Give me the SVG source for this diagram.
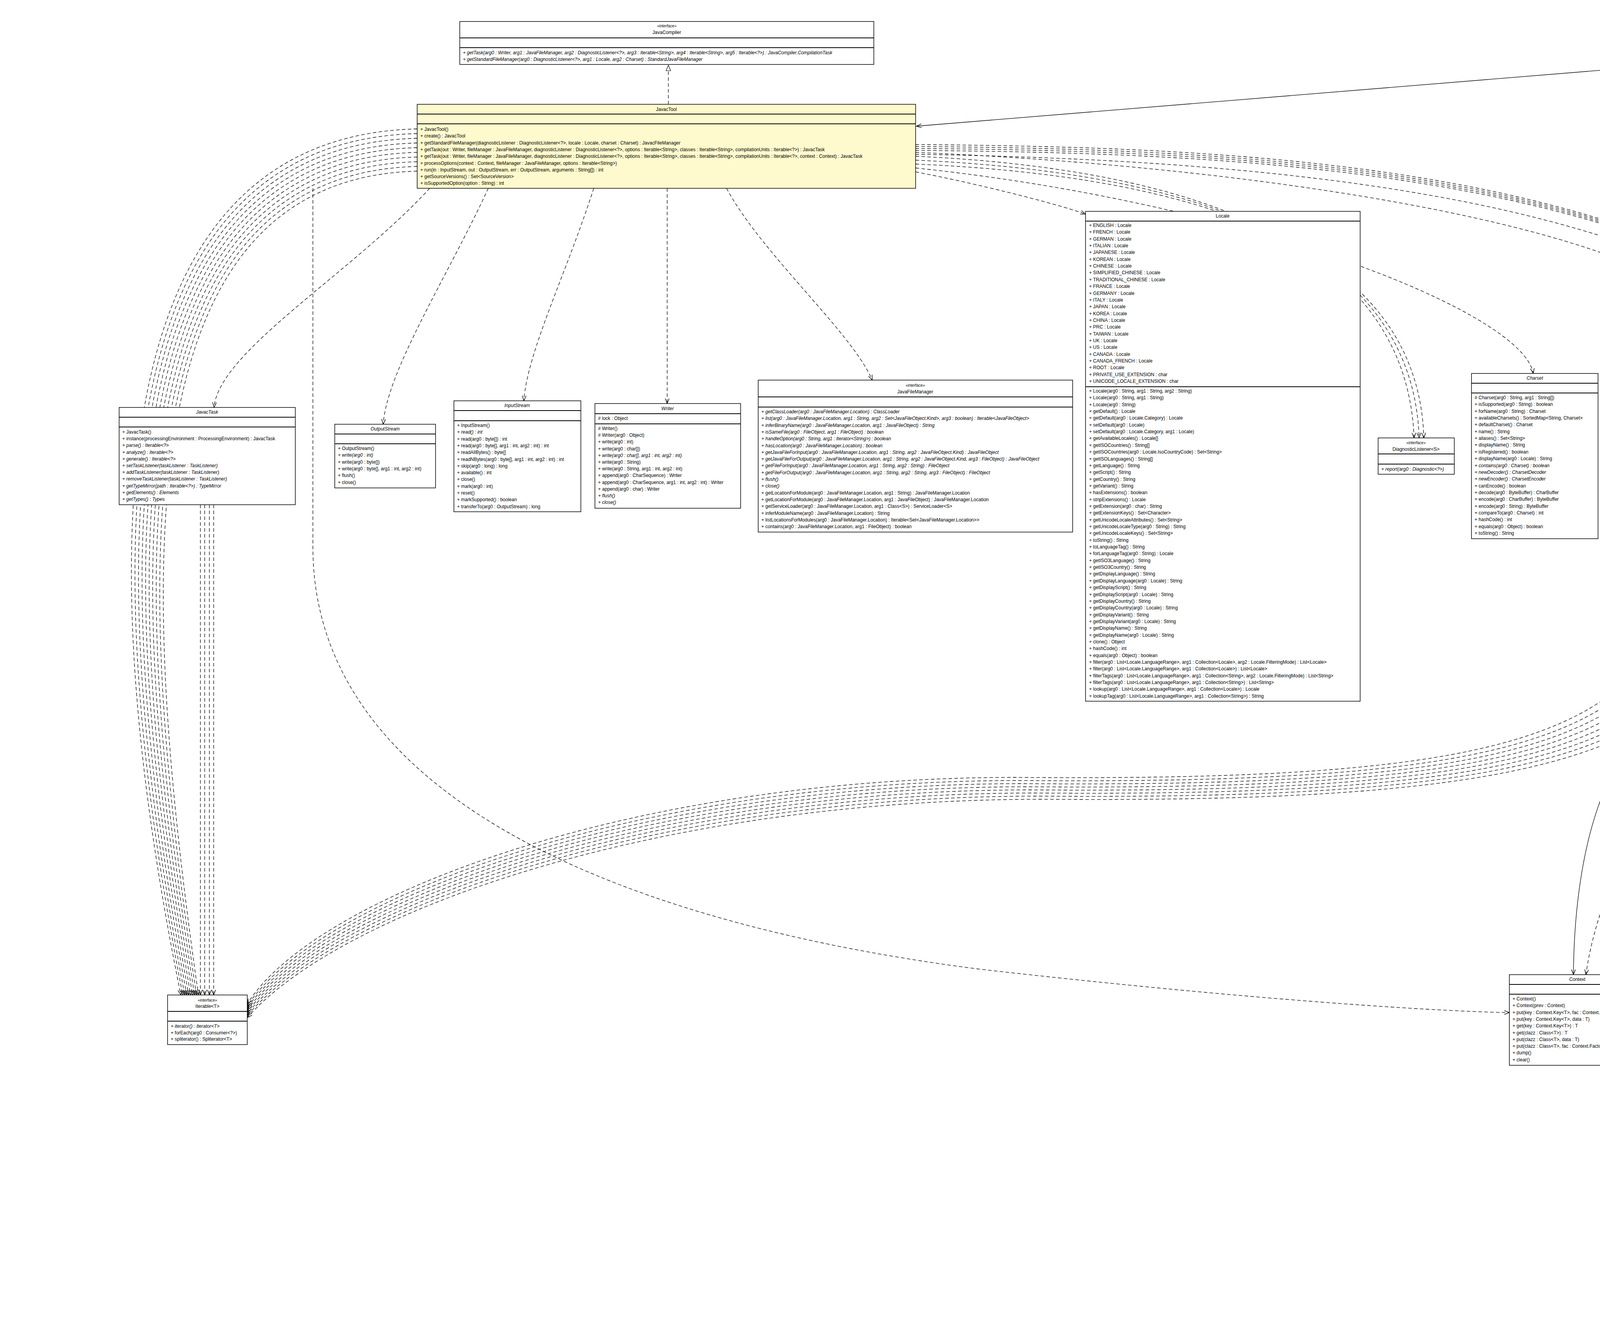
<svg xmlns="http://www.w3.org/2000/svg" width="5475" height="3379" viewBox="0 0 5475 3379">
<style>
.b{fill:#fff;stroke:#000;stroke-width:1.5}
.y{fill:#fffacd}
.l{stroke:#000;stroke-width:1.8}
text{font-family:"Liberation Sans",Arial,sans-serif;font-size:12px;fill:#000}
.c{text-anchor:middle}
.s{font-size:10px}
.i{font-style:italic}
.k{fill:none;stroke:#000;stroke-width:1.3}
.d{stroke-dasharray:9,6}
</style>
<defs>
<marker id="oa" markerWidth="16" markerHeight="12" refX="14" refY="6" orient="auto" markerUnits="userSpaceOnUse"><path d="M1,1 L14,6 L1,11" fill="none" stroke="#000" stroke-width="1.4"/></marker>
<marker id="tr" markerWidth="16" markerHeight="14" refX="15" refY="7" orient="auto" markerUnits="userSpaceOnUse"><path d="M1,1 L15,7 L1,13 Z" fill="#fff" stroke="#000" stroke-width="1.2"/></marker>
</defs>
<rect x="0" y="0" width="5475" height="3379" fill="#fff"/>

<g id="connectors">
<path class="k d" d="M1711,267 L1711,167" marker-end="url(#tr)"/>
<path class="k" d="M5076,100 L2346,323" marker-end="url(#oa)"/>
<path class="k d" d="M1100,482 C900,700 560,900 548,1043" marker-end="url(#oa)"/>
<path class="k d" d="M1250,482 C1150,700 990,950 981,1086" marker-end="url(#oa)"/>
<path class="k d" d="M1520,482 C1450,700 1350,900 1341,1026" marker-end="url(#oa)"/>
<path class="k d" d="M1708,482 L1708,1033" marker-end="url(#oa)"/>
<path class="k d" d="M1860,482 C1950,650 2180,850 2233,973" marker-end="url(#oa)"/>
<path class="k d" d="M2344,440 C2500,470 2700,520 2779,548" marker-end="url(#oa)"/>
<path class="k d" d="M2344,400 C3000,430 3600,600 3620,1121" marker-end="url(#oa)"/>
<path class="k d" d="M2344,410 C3020,440 3615,610 3633,1121" marker-end="url(#oa)"/>
<path class="k d" d="M2344,420 C3040,450 3630,620 3645,1121" marker-end="url(#oa)"/>
<path class="k d" d="M2344,430 C3200,520 3900,800 3925,956" marker-end="url(#oa)"/>
<path class="k d" d="M2344,390 C3300,430 4300,600 4410,844" marker-end="url(#oa)"/>
<path class="k d" d="M2344,370 C3500,380 5150,450 5188,1854" marker-end="url(#oa)"/>
<path class="k d" d="M2344,375 C3500,385 5155,455 5193,1854" marker-end="url(#oa)"/>
<path class="k d" d="M2344,380 C3500,390 5160,460 5198,1854" marker-end="url(#oa)"/>
<path class="k d" d="M2344,385 C3500,395 5165,465 5203,1854" marker-end="url(#oa)"/>
<path class="k" d="M5170,209 L5183,1854" marker-end="url(#oa)"/>
<path class="k" d="M5176,209 L5192,1854" marker-end="url(#oa)"/>
<path class="k" d="M5160,209 C5100,800 5100,1700 5034,1796 C4950,1900 4500,1780 4300,1820 C4100,1880 4030,2200 4028,2495" marker-end="url(#oa)"/>
<path class="k d" d="M4382,1491 C4330,1900 4100,2200 4060,2495" marker-end="url(#oa)"/>
<path class="k d" d="M801,482 L801,1400 C801,2000 1500,2350 2500,2480 C3200,2560 3700,2590 3864,2592" marker-end="url(#oa)"/>
<path class="k" d="M4721,1491 L4938,1956" marker-end="url(#oa)"/>
<path class="k d" d="M4750,1491 L4938,1900" marker-end="url(#oa)"/>
<path class="k d" d="M4770,1491 L4938,1858" marker-end="url(#oa)"/>
<path class="k" d="M4534,1491 L4534,2330" marker-end="url(#oa)"/>
<path class="k d" d="M4550,1491 L4550,2330" marker-end="url(#oa)"/>
<path class="k d" d="M4565,1491 L4565,2330" marker-end="url(#oa)"/>
<path class="k d" d="M4580,1491 L4580,2330" marker-end="url(#oa)"/>
<path class="k d" d="M4595,1491 L4595,2330" marker-end="url(#oa)"/>
<path class="k d" d="M4610,1491 L4610,2330" marker-end="url(#oa)"/>
<path class="k d" d="M2344,395 C4000,420 5100,700 5040,1780 C4950,1900 4680,2100 4645,2330" marker-end="url(#oa)"/>
<path class="k d" d="M4310,1491 C4200,1900 3800,2000 2600,1990 C1600,1990 800,2300 633,2570" marker-end="url(#oa)"/>
<path class="k d" d="M4335,1491 C4225,1905 3820,2008 2610,1998 C1610,1998 810,2305 633,2575" marker-end="url(#oa)"/>
<path class="k d" d="M4360,1491 C4250,1910 3840,2016 2620,2006 C1620,2006 820,2310 633,2580" marker-end="url(#oa)"/>
<path class="k d" d="M4385,1491 C4275,1915 3860,2024 2630,2014 C1630,2014 830,2315 633,2585" marker-end="url(#oa)"/>
<path class="k d" d="M4410,1491 C4300,1920 3880,2032 2640,2022 C1640,2022 840,2320 633,2590" marker-end="url(#oa)"/>
<path class="k d" d="M4435,1491 C4325,1925 3900,2040 2650,2030 C1650,2030 850,2325 633,2595" marker-end="url(#oa)"/>
<path class="k d" d="M4460,1491 C4350,1930 3920,2048 2660,2038 C1660,2038 860,2330 633,2600" marker-end="url(#oa)"/>
<path class="k d" d="M4485,1491 C4375,1935 3940,2056 2670,2046 C1670,2046 870,2335 633,2605" marker-end="url(#oa)"/>
<path class="k d" d="M1068,330 C220,350 250,1500 463,2547" marker-end="url(#oa)"/>
<path class="k d" d="M1068,342 C230,362 262,1500 468,2547" marker-end="url(#oa)"/>
<path class="k d" d="M1068,354 C240,374 274,1500 473,2547" marker-end="url(#oa)"/>
<path class="k d" d="M1068,366 C250,386 286,1500 478,2547" marker-end="url(#oa)"/>
<path class="k d" d="M1068,378 C260,398 298,1500 483,2547" marker-end="url(#oa)"/>
<path class="k d" d="M1068,390 C270,410 310,1500 488,2547" marker-end="url(#oa)"/>
<path class="k d" d="M1068,402 C280,422 322,1500 493,2547" marker-end="url(#oa)"/>
<path class="k d" d="M1068,414 C290,434 334,1500 498,2547" marker-end="url(#oa)"/>
<path class="k d" d="M1068,426 C300,446 346,1500 503,2547" marker-end="url(#oa)"/>
<path class="k d" d="M1068,438 C310,458 358,1500 508,2547" marker-end="url(#oa)"/>
<path class="k d" d="M513,1292 L513,2547" marker-end="url(#oa)"/>
<path class="k d" d="M524,1292 L524,2547" marker-end="url(#oa)"/>
<path class="k d" d="M536,1292 L536,2547" marker-end="url(#oa)"/>
<path class="k d" d="M547,1292 L547,2547" marker-end="url(#oa)"/>
</g>

<g id="JavaCompiler">
<rect class="b" x="1177" y="55" width="1060" height="110"/>
<line class="l" x1="1177" y1="97" x2="2237" y2="97"/><line class="l" x1="1177" y1="122" x2="2237" y2="122"/>
<text class="c s" x="1707" y="70">«interface»</text>
<text class="c" x="1707" y="87">JavaCompiler</text>
<text class="i"><tspan x="1185" y="139">+ getTask(arg0 : Writer, arg1 : JavaFileManager, arg2 : DiagnosticListener&lt;?&gt;, arg3 : Iterable&lt;String&gt;, arg4 : Iterable&lt;String&gt;, arg5 : Iterable&lt;?&gt;) : JavaCompiler.CompilationTask</tspan><tspan x="1185" dy="17">+ getStandardFileManager(arg0 : DiagnosticListener&lt;?&gt;, arg1 : Locale, arg2 : Charset) : StandardJavaFileManager</tspan></text>
</g>

<g id="JavacTool">
<rect class="b y" x="1068" y="267" width="1276" height="215"/>
<line class="l" x1="1068" y1="292" x2="2344" y2="292"/><line class="l" x1="1068" y1="317" x2="2344" y2="317"/>
<text class="c" x="1706" y="284">JavacTool</text>
<text><tspan x="1076" y="335">+ JavacTool()</tspan><tspan x="1076" dy="17.3">+ create() : JavacTool</tspan><tspan x="1076" dy="17.3">+ getStandardFileManager(diagnosticListener : DiagnosticListener&lt;?&gt;, locale : Locale, charset : Charset) : JavacFileManager</tspan><tspan x="1076" dy="17.3">+ getTask(out : Writer, fileManager : JavaFileManager, diagnosticListener : DiagnosticListener&lt;?&gt;, options : Iterable&lt;String&gt;, classes : Iterable&lt;String&gt;, compilationUnits : Iterable&lt;?&gt;) : JavacTask</tspan><tspan x="1076" dy="17.3">+ getTask(out : Writer, fileManager : JavaFileManager, diagnosticListener : DiagnosticListener&lt;?&gt;, options : Iterable&lt;String&gt;, classes : Iterable&lt;String&gt;, compilationUnits : Iterable&lt;?&gt;, context : Context) : JavacTask</tspan><tspan x="1076" dy="17.3">+ processOptions(context : Context, fileManager : JavaFileManager, options : Iterable&lt;String&gt;)</tspan><tspan x="1076" dy="17.3">+ run(in : InputStream, out : OutputStream, err : OutputStream, arguments : String[]) : int</tspan><tspan x="1076" dy="17.3">+ getSourceVersions() : Set&lt;SourceVersion&gt;</tspan><tspan x="1076" dy="17.3">+ isSupportedOption(option : String) : int</tspan></text>
</g>

<g id="JavacTask">
<rect class="b" x="305" y="1043" width="451" height="249"/>
<line class="l" x1="305" y1="1068" x2="756" y2="1068"/><line class="l" x1="305" y1="1093" x2="756" y2="1093"/>
<text class="c i" x="530" y="1059">JavacTask</text>
<text><tspan x="313" y="1110">+ JavacTask()</tspan><tspan x="313" dy="17.2">+ instance(processingEnvironment : ProcessingEnvironment) : JavacTask</tspan><tspan class="i" x="313" dy="17.2">+ parse() : Iterable&lt;?&gt;</tspan><tspan class="i" x="313" dy="17.2">+ analyze() : Iterable&lt;?&gt;</tspan><tspan class="i" x="313" dy="17.2">+ generate() : Iterable&lt;?&gt;</tspan><tspan class="i" x="313" dy="17.2">+ setTaskListener(taskListener : TaskListener)</tspan><tspan class="i" x="313" dy="17.2">+ addTaskListener(taskListener : TaskListener)</tspan><tspan class="i" x="313" dy="17.2">+ removeTaskListener(taskListener : TaskListener)</tspan><tspan class="i" x="313" dy="17.2">+ getTypeMirror(path : Iterable&lt;?&gt;) : TypeMirror</tspan><tspan class="i" x="313" dy="17.2">+ getElements() : Elements</tspan><tspan class="i" x="313" dy="17.2">+ getTypes() : Types</tspan></text>
</g>

<g id="OutputStream">
<rect class="b" x="857" y="1086" width="258" height="163"/>
<line class="l" x1="857" y1="1111" x2="1115" y2="1111"/><line class="l" x1="857" y1="1136" x2="1115" y2="1136"/>
<text class="c i" x="986" y="1102">OutputStream</text>
<text><tspan x="865" y="1152">+ OutputStream()</tspan><tspan class="i" x="865" dy="17.3">+ write(arg0 : int)</tspan><tspan x="865" dy="17.3">+ write(arg0 : byte[])</tspan><tspan x="865" dy="17.3">+ write(arg0 : byte[], arg1 : int, arg2 : int)</tspan><tspan x="865" dy="17.3">+ flush()</tspan><tspan x="865" dy="17.3">+ close()</tspan></text>
</g>

<g id="InputStream">
<rect class="b" x="1162" y="1026" width="325" height="284"/>
<line class="l" x1="1162" y1="1051" x2="1487" y2="1051"/><line class="l" x1="1162" y1="1077" x2="1487" y2="1077"/>
<text class="c i" x="1324" y="1042">InputStream</text>
<text><tspan x="1170" y="1093">+ InputStream()</tspan><tspan class="i" x="1170" dy="17.3">+ read() : int</tspan><tspan x="1170" dy="17.3">+ read(arg0 : byte[]) : int</tspan><tspan x="1170" dy="17.3">+ read(arg0 : byte[], arg1 : int, arg2 : int) : int</tspan><tspan x="1170" dy="17.3">+ readAllBytes() : byte[]</tspan><tspan x="1170" dy="17.3">+ readNBytes(arg0 : byte[], arg1 : int, arg2 : int) : int</tspan><tspan x="1170" dy="17.3">+ skip(arg0 : long) : long</tspan><tspan x="1170" dy="17.3">+ available() : int</tspan><tspan x="1170" dy="17.3">+ close()</tspan><tspan x="1170" dy="17.3">+ mark(arg0 : int)</tspan><tspan x="1170" dy="17.3">+ reset()</tspan><tspan x="1170" dy="17.3">+ markSupported() : boolean</tspan><tspan x="1170" dy="17.3">+ transferTo(arg0 : OutputStream) : long</tspan></text>
</g>

<g id="Writer">
<rect class="b" x="1523" y="1033" width="373" height="268"/>
<line class="l" x1="1523" y1="1059" x2="1896" y2="1059"/><line class="l" x1="1523" y1="1085" x2="1896" y2="1085"/>
<text class="c i" x="1709" y="1050">Writer</text>
<text x="1531" y="1075"># lock : Object</text>
<text><tspan x="1531" y="1101"># Writer()</tspan><tspan x="1531" dy="17.2"># Writer(arg0 : Object)</tspan><tspan x="1531" dy="17.2">+ write(arg0 : int)</tspan><tspan x="1531" dy="17.2">+ write(arg0 : char[])</tspan><tspan class="i" x="1531" dy="17.2">+ write(arg0 : char[], arg1 : int, arg2 : int)</tspan><tspan x="1531" dy="17.2">+ write(arg0 : String)</tspan><tspan x="1531" dy="17.2">+ write(arg0 : String, arg1 : int, arg2 : int)</tspan><tspan x="1531" dy="17.2">+ append(arg0 : CharSequence) : Writer</tspan><tspan x="1531" dy="17.2">+ append(arg0 : CharSequence, arg1 : int, arg2 : int) : Writer</tspan><tspan x="1531" dy="17.2">+ append(arg0 : char) : Writer</tspan><tspan class="i" x="1531" dy="17.2">+ flush()</tspan><tspan class="i" x="1531" dy="17.2">+ close()</tspan></text>
</g>

<g id="JavaFileManager">
<rect class="b" x="1941" y="973" width="805" height="389"/>
<line class="l" x1="1941" y1="1016" x2="2746" y2="1016"/><line class="l" x1="1941" y1="1042" x2="2746" y2="1042"/>
<text class="c s" x="2343" y="990">«interface»</text>
<text class="c" x="2343" y="1007">JavaFileManager</text>
<text><tspan class="i" x="1949" y="1058">+ getClassLoader(arg0 : JavaFileManager.Location) : ClassLoader</tspan><tspan class="i" x="1949" dy="17.3">+ list(arg0 : JavaFileManager.Location, arg1 : String, arg2 : Set&lt;JavaFileObject.Kind&gt;, arg3 : boolean) : Iterable&lt;JavaFileObject&gt;</tspan><tspan class="i" x="1949" dy="17.3">+ inferBinaryName(arg0 : JavaFileManager.Location, arg1 : JavaFileObject) : String</tspan><tspan class="i" x="1949" dy="17.3">+ isSameFile(arg0 : FileObject, arg1 : FileObject) : boolean</tspan><tspan class="i" x="1949" dy="17.3">+ handleOption(arg0 : String, arg1 : Iterator&lt;String&gt;) : boolean</tspan><tspan class="i" x="1949" dy="17.3">+ hasLocation(arg0 : JavaFileManager.Location) : boolean</tspan><tspan class="i" x="1949" dy="17.3">+ getJavaFileForInput(arg0 : JavaFileManager.Location, arg1 : String, arg2 : JavaFileObject.Kind) : JavaFileObject</tspan><tspan class="i" x="1949" dy="17.3">+ getJavaFileForOutput(arg0 : JavaFileManager.Location, arg1 : String, arg2 : JavaFileObject.Kind, arg3 : FileObject) : JavaFileObject</tspan><tspan class="i" x="1949" dy="17.3">+ getFileForInput(arg0 : JavaFileManager.Location, arg1 : String, arg2 : String) : FileObject</tspan><tspan class="i" x="1949" dy="17.3">+ getFileForOutput(arg0 : JavaFileManager.Location, arg1 : String, arg2 : String, arg3 : FileObject) : FileObject</tspan><tspan class="i" x="1949" dy="17.3">+ flush()</tspan><tspan class="i" x="1949" dy="17.3">+ close()</tspan><tspan x="1949" dy="17.3">+ getLocationForModule(arg0 : JavaFileManager.Location, arg1 : String) : JavaFileManager.Location</tspan><tspan x="1949" dy="17.3">+ getLocationForModule(arg0 : JavaFileManager.Location, arg1 : JavaFileObject) : JavaFileManager.Location</tspan><tspan x="1949" dy="17.3">+ getServiceLoader(arg0 : JavaFileManager.Location, arg1 : Class&lt;S&gt;) : ServiceLoader&lt;S&gt;</tspan><tspan x="1949" dy="17.3">+ inferModuleName(arg0 : JavaFileManager.Location) : String</tspan><tspan x="1949" dy="17.3">+ listLocationsForModules(arg0 : JavaFileManager.Location) : Iterable&lt;Set&lt;JavaFileManager.Location&gt;&gt;</tspan><tspan x="1949" dy="17.3">+ contains(arg0 : JavaFileManager.Location, arg1 : FileObject) : boolean</tspan></text>
</g>

<g id="Locale">
<rect class="b" x="2779" y="541" width="703" height="1254"/>
<line class="l" x1="2779" y1="566" x2="3482" y2="566"/><line class="l" x1="2779" y1="990" x2="3482" y2="990"/>
<text class="c" x="3130" y="557">Locale</text>
<text><tspan x="2788" y="581">+ ENGLISH : Locale</tspan><tspan x="2788" dy="17.35">+ FRENCH : Locale</tspan><tspan x="2788" dy="17.35">+ GERMAN : Locale</tspan><tspan x="2788" dy="17.35">+ ITALIAN : Locale</tspan><tspan x="2788" dy="17.35">+ JAPANESE : Locale</tspan><tspan x="2788" dy="17.35">+ KOREAN : Locale</tspan><tspan x="2788" dy="17.35">+ CHINESE : Locale</tspan><tspan x="2788" dy="17.35">+ SIMPLIFIED_CHINESE : Locale</tspan><tspan x="2788" dy="17.35">+ TRADITIONAL_CHINESE : Locale</tspan><tspan x="2788" dy="17.35">+ FRANCE : Locale</tspan><tspan x="2788" dy="17.35">+ GERMANY : Locale</tspan><tspan x="2788" dy="17.35">+ ITALY : Locale</tspan><tspan x="2788" dy="17.35">+ JAPAN : Locale</tspan><tspan x="2788" dy="17.35">+ KOREA : Locale</tspan><tspan x="2788" dy="17.35">+ CHINA : Locale</tspan><tspan x="2788" dy="17.35">+ PRC : Locale</tspan><tspan x="2788" dy="17.35">+ TAIWAN : Locale</tspan><tspan x="2788" dy="17.35">+ UK : Locale</tspan><tspan x="2788" dy="17.35">+ US : Locale</tspan><tspan x="2788" dy="17.35">+ CANADA : Locale</tspan><tspan x="2788" dy="17.35">+ CANADA_FRENCH : Locale</tspan><tspan x="2788" dy="17.35">+ ROOT : Locale</tspan><tspan x="2788" dy="17.35">+ PRIVATE_USE_EXTENSION : char</tspan><tspan x="2788" dy="17.35">+ UNICODE_LOCALE_EXTENSION : char</tspan></text>
<text><tspan x="2788" y="1005">+ Locale(arg0 : String, arg1 : String, arg2 : String)</tspan><tspan x="2788" dy="17.35">+ Locale(arg0 : String, arg1 : String)</tspan><tspan x="2788" dy="17.35">+ Locale(arg0 : String)</tspan><tspan x="2788" dy="17.35">+ getDefault() : Locale</tspan><tspan x="2788" dy="17.35">+ getDefault(arg0 : Locale.Category) : Locale</tspan><tspan x="2788" dy="17.35">+ setDefault(arg0 : Locale)</tspan><tspan x="2788" dy="17.35">+ setDefault(arg0 : Locale.Category, arg1 : Locale)</tspan><tspan x="2788" dy="17.35">+ getAvailableLocales() : Locale[]</tspan><tspan x="2788" dy="17.35">+ getISOCountries() : String[]</tspan><tspan x="2788" dy="17.35">+ getISOCountries(arg0 : Locale.IsoCountryCode) : Set&lt;String&gt;</tspan><tspan x="2788" dy="17.35">+ getISOLanguages() : String[]</tspan><tspan x="2788" dy="17.35">+ getLanguage() : String</tspan><tspan x="2788" dy="17.35">+ getScript() : String</tspan><tspan x="2788" dy="17.35">+ getCountry() : String</tspan><tspan x="2788" dy="17.35">+ getVariant() : String</tspan><tspan x="2788" dy="17.35">+ hasExtensions() : boolean</tspan><tspan x="2788" dy="17.35">+ stripExtensions() : Locale</tspan><tspan x="2788" dy="17.35">+ getExtension(arg0 : char) : String</tspan><tspan x="2788" dy="17.35">+ getExtensionKeys() : Set&lt;Character&gt;</tspan><tspan x="2788" dy="17.35">+ getUnicodeLocaleAttributes() : Set&lt;String&gt;</tspan><tspan x="2788" dy="17.35">+ getUnicodeLocaleType(arg0 : String) : String</tspan><tspan x="2788" dy="17.35">+ getUnicodeLocaleKeys() : Set&lt;String&gt;</tspan><tspan x="2788" dy="17.35">+ toString() : String</tspan><tspan x="2788" dy="17.35">+ toLanguageTag() : String</tspan><tspan x="2788" dy="17.35">+ forLanguageTag(arg0 : String) : Locale</tspan><tspan x="2788" dy="17.35">+ getISO3Language() : String</tspan><tspan x="2788" dy="17.35">+ getISO3Country() : String</tspan><tspan x="2788" dy="17.35">+ getDisplayLanguage() : String</tspan><tspan x="2788" dy="17.35">+ getDisplayLanguage(arg0 : Locale) : String</tspan><tspan x="2788" dy="17.35">+ getDisplayScript() : String</tspan><tspan x="2788" dy="17.35">+ getDisplayScript(arg0 : Locale) : String</tspan><tspan x="2788" dy="17.35">+ getDisplayCountry() : String</tspan><tspan x="2788" dy="17.35">+ getDisplayCountry(arg0 : Locale) : String</tspan><tspan x="2788" dy="17.35">+ getDisplayVariant() : String</tspan><tspan x="2788" dy="17.35">+ getDisplayVariant(arg0 : Locale) : String</tspan><tspan x="2788" dy="17.35">+ getDisplayName() : String</tspan><tspan x="2788" dy="17.35">+ getDisplayName(arg0 : Locale) : String</tspan><tspan x="2788" dy="17.35">+ clone() : Object</tspan><tspan x="2788" dy="17.35">+ hashCode() : int</tspan><tspan x="2788" dy="17.35">+ equals(arg0 : Object) : boolean</tspan><tspan x="2788" dy="17.35">+ filter(arg0 : List&lt;Locale.LanguageRange&gt;, arg1 : Collection&lt;Locale&gt;, arg2 : Locale.FilteringMode) : List&lt;Locale&gt;</tspan><tspan x="2788" dy="17.35">+ filter(arg0 : List&lt;Locale.LanguageRange&gt;, arg1 : Collection&lt;Locale&gt;) : List&lt;Locale&gt;</tspan><tspan x="2788" dy="17.35">+ filterTags(arg0 : List&lt;Locale.LanguageRange&gt;, arg1 : Collection&lt;String&gt;, arg2 : Locale.FilteringMode) : List&lt;String&gt;</tspan><tspan x="2788" dy="17.35">+ filterTags(arg0 : List&lt;Locale.LanguageRange&gt;, arg1 : Collection&lt;String&gt;) : List&lt;String&gt;</tspan><tspan x="2788" dy="17.35">+ lookup(arg0 : List&lt;Locale.LanguageRange&gt;, arg1 : Collection&lt;Locale&gt;) : Locale</tspan><tspan x="2788" dy="17.35">+ lookupTag(arg0 : List&lt;Locale.LanguageRange&gt;, arg1 : Collection&lt;String&gt;) : String</tspan></text>
</g>

<g id="DiagnosticListener">
<rect class="b" x="3528" y="1121" width="195" height="93"/>
<line class="l" x1="3528" y1="1162" x2="3723" y2="1162"/><line class="l" x1="3528" y1="1188" x2="3723" y2="1188"/>
<text class="c s" x="3625" y="1137">«interface»</text>
<text class="c" x="3625" y="1154">DiagnosticListener&lt;S&gt;</text>
<text class="i" x="3536" y="1205">+ report(arg0 : Diagnostic&lt;?&gt;)</text>
</g>

<g id="Charset">
<rect class="b" x="3767" y="956" width="324" height="423"/>
<line class="l" x1="3767" y1="981" x2="4091" y2="981"/><line class="l" x1="3767" y1="1006" x2="4091" y2="1006"/>
<text class="c i" x="3929" y="972">Charset</text>
<text><tspan x="3775" y="1022"># Charset(arg0 : String, arg1 : String[])</tspan><tspan x="3775" dy="17.35">+ isSupported(arg0 : String) : boolean</tspan><tspan x="3775" dy="17.35">+ forName(arg0 : String) : Charset</tspan><tspan x="3775" dy="17.35">+ availableCharsets() : SortedMap&lt;String, Charset&gt;</tspan><tspan x="3775" dy="17.35">+ defaultCharset() : Charset</tspan><tspan x="3775" dy="17.35">+ name() : String</tspan><tspan x="3775" dy="17.35">+ aliases() : Set&lt;String&gt;</tspan><tspan x="3775" dy="17.35">+ displayName() : String</tspan><tspan x="3775" dy="17.35">+ isRegistered() : boolean</tspan><tspan x="3775" dy="17.35">+ displayName(arg0 : Locale) : String</tspan><tspan class="i" x="3775" dy="17.35">+ contains(arg0 : Charset) : boolean</tspan><tspan class="i" x="3775" dy="17.35">+ newDecoder() : CharsetDecoder</tspan><tspan class="i" x="3775" dy="17.35">+ newEncoder() : CharsetEncoder</tspan><tspan x="3775" dy="17.35">+ canEncode() : boolean</tspan><tspan x="3775" dy="17.35">+ decode(arg0 : ByteBuffer) : CharBuffer</tspan><tspan x="3775" dy="17.35">+ encode(arg0 : CharBuffer) : ByteBuffer</tspan><tspan x="3775" dy="17.35">+ encode(arg0 : String) : ByteBuffer</tspan><tspan x="3775" dy="17.35">+ compareTo(arg0 : Charset) : int</tspan><tspan x="3775" dy="17.35">+ hashCode() : int</tspan><tspan x="3775" dy="17.35">+ equals(arg0 : Object) : boolean</tspan><tspan x="3775" dy="17.35">+ toString() : String</tspan></text>
</g>

<g id="JavacFileManager">
<rect class="b" x="4137" y="844" width="876" height="647"/>
<line class="l" x1="4137" y1="868" x2="5013" y2="868"/><line class="l" x1="4137" y1="929" x2="5013" y2="929"/>
<text class="c" x="4575" y="860">JavacFileManager</text>
<text><tspan x="4145" y="885"># mmappedIO : boolean</tspan><tspan x="4145" dy="17"># symbolFileEnabled : boolean</tspan><tspan x="4145" dy="17"># sortFiles : JavacFileManager.SortFiles</tspan></text>
<text><tspan x="4145" y="945">+ JavacFileManager(context : Context, register : boolean, charset : Charset)</tspan><tspan x="4145" dy="17.3">+ toArray(buffer : CharBuffer) : char[]</tspan><tspan x="4145" dy="17.3">+ preRegister(context : Context)</tspan><tspan x="4145" dy="17.3">+ setContext(context : Context)</tspan><tspan x="4145" dy="17.3">+ setSymbolFileEnabled(b : boolean)</tspan><tspan x="4145" dy="17.3">+ isDefaultBootClassPath() : boolean</tspan><tspan x="4145" dy="17.3">+ getFileForInput(name : String) : JavaFileObject</tspan><tspan x="4145" dy="17.3">+ getRegularFile(file : File) : JavaFileObject</tspan><tspan x="4145" dy="17.3">+ getFileForOutput(classname : String, kind : JavaFileObject.Kind, sibling : JavaFileObject) : JavaFileObject</tspan><tspan x="4145" dy="17.3">+ getJavaFileObjectsFromStrings(names : Iterable&lt;String&gt;) : Iterable&lt;?&gt;</tspan><tspan x="4145" dy="17.3">+ getJavaFileObjects(names : String[]) : Iterable&lt;?&gt;</tspan><tspan x="4145" dy="17.3">+ testName(name : String, isValidPackageName : boolean, isValidClassName : boolean)</tspan><tspan x="4145" dy="17.3"># openArchive(zipFilename : File) : JavacFileManager.Archive</tspan><tspan x="4145" dy="17.3">+ flush()</tspan><tspan x="4145" dy="17.3">+ close()</tspan><tspan x="4145" dy="17.3">+ getClassLoader(location : JavaFileManager.Location) : ClassLoader</tspan><tspan x="4145" dy="17.3">+ list(location : JavaFileManager.Location, packageName : String, kinds : Set&lt;JavaFileObject.Kind&gt;, recurse : boolean) : Iterable&lt;JavaFileObject&gt;</tspan><tspan x="4145" dy="17.3">+ inferBinaryName(location : JavaFileManager.Location, file : JavaFileObject) : String</tspan><tspan x="4145" dy="17.3">+ isSameFile(a : FileObject, b : FileObject) : boolean</tspan><tspan x="4145" dy="17.3">+ hasLocation(location : JavaFileManager.Location) : boolean</tspan><tspan x="4145" dy="17.3">+ getJavaFileForInput(location : JavaFileManager.Location, className : String, kind : JavaFileObject.Kind) : JavaFileObject</tspan><tspan x="4145" dy="17.3">+ getFileForInput(location : JavaFileManager.Location, packageName : String, relativeName : String) : FileObject</tspan><tspan x="4145" dy="17.3">+ getJavaFileForOutput(location : JavaFileManager.Location, className : String, kind : JavaFileObject.Kind, sibling : FileObject) : JavaFileObject</tspan><tspan x="4145" dy="17.3">+ getFileForOutput(location : JavaFileManager.Location, packageName : String, relativeName : String, sibling : FileObject) : FileObject</tspan><tspan x="4145" dy="17.3">+ getJavaFileObjectsFromFiles(files : Iterable&lt;?&gt;) : Iterable&lt;?&gt;</tspan><tspan x="4145" dy="17.3">+ getJavaFileObjects(files : File[]) : Iterable&lt;?&gt;</tspan><tspan x="4145" dy="17.3">+ setLocation(location : JavaFileManager.Location, path : Iterable&lt;?&gt;)</tspan><tspan x="4145" dy="17.3">+ getLocation(location : JavaFileManager.Location) : Iterable&lt;?&gt;</tspan><tspan x="4145" dy="17.3"># isRelativeUri(uri : URI) : boolean</tspan><tspan x="4145" dy="17.3"># isRelativeUri(u : String) : boolean</tspan><tspan x="4145" dy="17.3">+ getRelativeName(file : File) : String</tspan><tspan x="4145" dy="17.3">+ getMessage(e : IOException) : String</tspan></text>
</g>

<g id="CompilerThread">
<rect class="b" x="5076" y="11" width="204" height="198"/>
<line class="l" x1="5076" y1="36" x2="5280" y2="36"/><line class="l" x1="5076" y1="61" x2="5280" y2="61"/>
<text class="c" x="5178" y="28">CompilerThread</text>
<text><tspan x="5084" y="79">+ executeSubtask(r : Runnable)</tspan><tspan x="5084" dy="17">+ numActiveSubTasks() : int</tspan><tspan x="5084" dy="17">+ setSocket(s : Socket)</tspan><tspan x="5084" dy="17">+ use()</tspan><tspan x="5084" dy="17">+ unuse()</tspan><tspan x="5084" dy="17">+ currentRequestId() : String</tspan><tspan x="5084" dy="17">+ logError(msg : String)</tspan><tspan x="5084" dy="17">+ run()</tspan></text>
</g>

<g id="String">
<rect class="b" x="4938" y="1854" width="529" height="1512"/>
<line class="l" x1="4938" y1="1879" x2="5467" y2="1879"/><line class="l" x1="4938" y1="1904" x2="5467" y2="1904"/>
<text class="c" x="5202" y="1870">String</text>
<text x="4947" y="1896">+ CASE_INSENSITIVE_ORDER : Comparator&lt;String&gt;</text>
<text><tspan x="4947" y="1919">+ String()</tspan><tspan x="4947" dy="16.72">+ String(arg0 : String)</tspan><tspan x="4947" dy="16.72">+ String(arg0 : char[])</tspan><tspan x="4947" dy="16.72">+ String(arg0 : char[], arg1 : int, arg2 : int)</tspan><tspan x="4947" dy="16.72">+ String(arg0 : int[], arg1 : int, arg2 : int)</tspan><tspan x="4947" dy="16.72">+ String(arg0 : byte[], arg1 : int, arg2 : int, arg3 : int)</tspan><tspan x="4947" dy="16.72">+ String(arg0 : byte[], arg1 : int)</tspan><tspan x="4947" dy="16.72">+ String(arg0 : byte[], arg1 : int, arg2 : int, arg3 : String)</tspan><tspan x="4947" dy="16.72">+ String(arg0 : byte[], arg1 : int, arg2 : int, arg3 : Charset)</tspan><tspan x="4947" dy="16.72">+ String(arg0 : byte[], arg1 : String)</tspan><tspan x="4947" dy="16.72">+ String(arg0 : byte[], arg1 : Charset)</tspan><tspan x="4947" dy="16.72">+ String(arg0 : byte[], arg1 : int, arg2 : int)</tspan><tspan x="4947" dy="16.72">+ String(arg0 : byte[])</tspan><tspan x="4947" dy="16.72">+ String(arg0 : StringBuffer)</tspan><tspan x="4947" dy="16.72">+ String(arg0 : StringBuilder)</tspan><tspan x="4947" dy="16.72">+ length() : int</tspan><tspan x="4947" dy="16.72">+ isEmpty() : boolean</tspan><tspan x="4947" dy="16.72">+ charAt(arg0 : int) : char</tspan><tspan x="4947" dy="16.72">+ codePointAt(arg0 : int) : int</tspan><tspan x="4947" dy="16.72">+ codePointBefore(arg0 : int) : int</tspan><tspan x="4947" dy="16.72">+ codePointCount(arg0 : int, arg1 : int) : int</tspan><tspan x="4947" dy="16.72">+ offsetByCodePoints(arg0 : int, arg1 : int) : int</tspan><tspan x="4947" dy="16.72">+ getChars(arg0 : int, arg1 : int, arg2 : char[], arg3 : int)</tspan><tspan x="4947" dy="16.72">+ getBytes(arg0 : int, arg1 : int, arg2 : byte[], arg3 : int)</tspan><tspan x="4947" dy="16.72">+ getBytes(arg0 : String) : byte[]</tspan><tspan x="4947" dy="16.72">+ getBytes(arg0 : Charset) : byte[]</tspan><tspan x="4947" dy="16.72">+ getBytes() : byte[]</tspan><tspan x="4947" dy="16.72">+ equals(arg0 : Object) : boolean</tspan><tspan x="4947" dy="16.72">+ contentEquals(arg0 : StringBuffer) : boolean</tspan><tspan x="4947" dy="16.72">+ contentEquals(arg0 : CharSequence) : boolean</tspan><tspan x="4947" dy="16.72">+ equalsIgnoreCase(arg0 : String) : boolean</tspan><tspan x="4947" dy="16.72">+ compareTo(arg0 : String) : int</tspan><tspan x="4947" dy="16.72">+ compareToIgnoreCase(arg0 : String) : int</tspan><tspan x="4947" dy="16.72">+ regionMatches(arg0 : int, arg1 : String, arg2 : int, arg3 : int) : boolean</tspan><tspan x="4947" dy="16.72">+ regionMatches(arg0 : boolean, arg1 : int, arg2 : String, arg3 : int, arg4 : int) : boolean</tspan><tspan x="4947" dy="16.72">+ startsWith(arg0 : String, arg1 : int) : boolean</tspan><tspan x="4947" dy="16.72">+ startsWith(arg0 : String) : boolean</tspan><tspan x="4947" dy="16.72">+ endsWith(arg0 : String) : boolean</tspan><tspan x="4947" dy="16.72">+ hashCode() : int</tspan><tspan x="4947" dy="16.72">+ indexOf(arg0 : int) : int</tspan><tspan x="4947" dy="16.72">+ indexOf(arg0 : int, arg1 : int) : int</tspan><tspan x="4947" dy="16.72">+ lastIndexOf(arg0 : int) : int</tspan><tspan x="4947" dy="16.72">+ lastIndexOf(arg0 : int, arg1 : int) : int</tspan><tspan x="4947" dy="16.72">+ indexOf(arg0 : String) : int</tspan><tspan x="4947" dy="16.72">+ indexOf(arg0 : String, arg1 : int) : int</tspan><tspan x="4947" dy="16.72">+ lastIndexOf(arg0 : String) : int</tspan><tspan x="4947" dy="16.72">+ lastIndexOf(arg0 : String, arg1 : int) : int</tspan><tspan x="4947" dy="16.72">+ substring(arg0 : int) : String</tspan><tspan x="4947" dy="16.72">+ substring(arg0 : int, arg1 : int) : String</tspan><tspan x="4947" dy="16.72">+ subSequence(arg0 : int, arg1 : int) : CharSequence</tspan><tspan x="4947" dy="16.72">+ concat(arg0 : String) : String</tspan><tspan x="4947" dy="16.72">+ replace(arg0 : char, arg1 : char) : String</tspan><tspan x="4947" dy="16.72">+ matches(arg0 : String) : boolean</tspan><tspan x="4947" dy="16.72">+ contains(arg0 : CharSequence) : boolean</tspan><tspan x="4947" dy="16.72">+ replaceFirst(arg0 : String, arg1 : String) : String</tspan><tspan x="4947" dy="16.72">+ replaceAll(arg0 : String, arg1 : String) : String</tspan><tspan x="4947" dy="16.72">+ replace(arg0 : CharSequence, arg1 : CharSequence) : String</tspan><tspan x="4947" dy="16.72">+ split(arg0 : String, arg1 : int) : String[]</tspan><tspan x="4947" dy="16.72">+ split(arg0 : String) : String[]</tspan><tspan x="4947" dy="16.72">+ join(arg0 : CharSequence, arg1 : CharSequence[]) : String</tspan><tspan x="4947" dy="16.72">+ join(arg0 : CharSequence, arg1 : Iterable&lt;?&gt;) : String</tspan><tspan x="4947" dy="16.72">+ toLowerCase(arg0 : Locale) : String</tspan><tspan x="4947" dy="16.72">+ toLowerCase() : String</tspan><tspan x="4947" dy="16.72">+ toUpperCase(arg0 : Locale) : String</tspan><tspan x="4947" dy="16.72">+ toUpperCase() : String</tspan><tspan x="4947" dy="16.72">+ trim() : String</tspan><tspan x="4947" dy="16.72">+ toString() : String</tspan><tspan x="4947" dy="16.72">+ chars() : IntStream</tspan><tspan x="4947" dy="16.72">+ codePoints() : IntStream</tspan><tspan x="4947" dy="16.72">+ toCharArray() : char[]</tspan><tspan x="4947" dy="16.72">+ format(arg0 : String, arg1 : Object[]) : String</tspan><tspan x="4947" dy="16.72">+ format(arg0 : Locale, arg1 : String, arg2 : Object[]) : String</tspan><tspan x="4947" dy="16.72">+ valueOf(arg0 : Object) : String</tspan><tspan x="4947" dy="16.72">+ valueOf(arg0 : char[]) : String</tspan><tspan x="4947" dy="16.72">+ valueOf(arg0 : char[], arg1 : int, arg2 : int) : String</tspan><tspan x="4947" dy="16.72">+ copyValueOf(arg0 : char[], arg1 : int, arg2 : int) : String</tspan><tspan x="4947" dy="16.72">+ copyValueOf(arg0 : char[]) : String</tspan><tspan x="4947" dy="16.72">+ valueOf(arg0 : boolean) : String</tspan><tspan x="4947" dy="16.72">+ valueOf(arg0 : char) : String</tspan><tspan x="4947" dy="16.72">+ valueOf(arg0 : int) : String</tspan><tspan x="4947" dy="16.72">+ valueOf(arg0 : long) : String</tspan><tspan x="4947" dy="16.72">+ valueOf(arg0 : float) : String</tspan><tspan x="4947" dy="16.72">+ valueOf(arg0 : double) : String</tspan><tspan x="4947" dy="16.72">+ intern() : String</tspan></text>
</g>

<g id="Set">
<rect class="b" x="4258" y="2330" width="647" height="562"/>
<line class="l" x1="4258" y1="2373" x2="4905" y2="2373"/><line class="l" x1="4258" y1="2399" x2="4905" y2="2399"/>
<text class="c s" x="4581" y="2347">«interface»</text>
<text class="c" x="4581" y="2364">Set&lt;E&gt;</text>
<text><tspan class="i" x="4266" y="2415">+ size() : int</tspan><tspan class="i" x="4266" dy="17.33">+ isEmpty() : boolean</tspan><tspan class="i" x="4266" dy="17.33">+ contains(arg0 : Object) : boolean</tspan><tspan class="i" x="4266" dy="17.33">+ iterator() : Iterator&lt;E&gt;</tspan><tspan class="i" x="4266" dy="17.33">+ toArray() : Object[]</tspan><tspan class="i" x="4266" dy="17.33">+ toArray(arg0 : T[]) : T[]</tspan><tspan class="i" x="4266" dy="17.33">+ add(arg0 : E) : boolean</tspan><tspan class="i" x="4266" dy="17.33">+ remove(arg0 : Object) : boolean</tspan><tspan class="i" x="4266" dy="17.33">+ containsAll(arg0 : Collection&lt;?&gt;) : boolean</tspan><tspan class="i" x="4266" dy="17.33">+ addAll(arg0 : Collection&lt;?&gt;) : boolean</tspan><tspan class="i" x="4266" dy="17.33">+ retainAll(arg0 : Collection&lt;?&gt;) : boolean</tspan><tspan class="i" x="4266" dy="17.33">+ removeAll(arg0 : Collection&lt;?&gt;) : boolean</tspan><tspan class="i" x="4266" dy="17.33">+ clear()</tspan><tspan class="i" x="4266" dy="17.33">+ equals(arg0 : Object) : boolean</tspan><tspan class="i" x="4266" dy="17.33">+ hashCode() : int</tspan><tspan x="4266" dy="17.33">+ spliterator() : Spliterator&lt;E&gt;</tspan><tspan x="4266" dy="17.33">+ of() : Set&lt;E&gt;</tspan><tspan x="4266" dy="17.33">+ of(arg0 : E) : Set&lt;E&gt;</tspan><tspan x="4266" dy="17.33">+ of(arg0 : E, arg1 : E) : Set&lt;E&gt;</tspan><tspan x="4266" dy="17.33">+ of(arg0 : E, arg1 : E, arg2 : E) : Set&lt;E&gt;</tspan><tspan x="4266" dy="17.33">+ of(arg0 : E, arg1 : E, arg2 : E, arg3 : E) : Set&lt;E&gt;</tspan><tspan x="4266" dy="17.33">+ of(arg0 : E, arg1 : E, arg2 : E, arg3 : E, arg4 : E) : Set&lt;E&gt;</tspan><tspan x="4266" dy="17.33">+ of(arg0 : E, arg1 : E, arg2 : E, arg3 : E, arg4 : E, arg5 : E) : Set&lt;E&gt;</tspan><tspan x="4266" dy="17.33">+ of(arg0 : E, arg1 : E, arg2 : E, arg3 : E, arg4 : E, arg5 : E, arg6 : E) : Set&lt;E&gt;</tspan><tspan x="4266" dy="17.33">+ of(arg0 : E, arg1 : E, arg2 : E, arg3 : E, arg4 : E, arg5 : E, arg6 : E, arg7 : E) : Set&lt;E&gt;</tspan><tspan x="4266" dy="17.33">+ of(arg0 : E, arg1 : E, arg2 : E, arg3 : E, arg4 : E, arg5 : E, arg6 : E, arg7 : E, arg8 : E) : Set&lt;E&gt;</tspan><tspan x="4266" dy="17.33">+ of(arg0 : E, arg1 : E, arg2 : E, arg3 : E, arg4 : E, arg5 : E, arg6 : E, arg7 : E, arg8 : E, arg9 : E) : Set&lt;E&gt;</tspan><tspan x="4266" dy="17.33">+ of(arg0 : E[]) : Set&lt;E&gt;</tspan></text>
</g>

<g id="Context">
<rect class="b" x="3864" y="2495" width="348" height="232"/>
<line class="l" x1="3864" y1="2520" x2="4212" y2="2520"/><line class="l" x1="3864" y1="2545" x2="4212" y2="2545"/>
<text class="c" x="4038" y="2511">Context</text>
<text><tspan x="3872" y="2561">+ Context()</tspan><tspan x="3872" dy="17.3">+ Context(prev : Context)</tspan><tspan x="3872" dy="17.3">+ put(key : Context.Key&lt;T&gt;, fac : Context.Factory&lt;T&gt;)</tspan><tspan x="3872" dy="17.3">+ put(key : Context.Key&lt;T&gt;, data : T)</tspan><tspan x="3872" dy="17.3">+ get(key : Context.Key&lt;T&gt;) : T</tspan><tspan x="3872" dy="17.3">+ get(clazz : Class&lt;T&gt;) : T</tspan><tspan x="3872" dy="17.3">+ put(clazz : Class&lt;T&gt;, data : T)</tspan><tspan x="3872" dy="17.3">+ put(clazz : Class&lt;T&gt;, fac : Context.Factory&lt;T&gt;)</tspan><tspan x="3872" dy="17.3">+ dump()</tspan><tspan x="3872" dy="17.3">+ clear()</tspan></text>
</g>

<g id="Iterable">
<rect class="b" x="429" y="2547" width="204" height="127"/>
<line class="l" x1="429" y1="2589" x2="633" y2="2589"/><line class="l" x1="429" y1="2614" x2="633" y2="2614"/>
<text class="c s" x="531" y="2564">«interface»</text>
<text class="c" x="531" y="2580">Iterable&lt;T&gt;</text>
<text><tspan class="i" x="437" y="2631">+ iterator() : Iterator&lt;T&gt;</tspan><tspan x="437" dy="16.7">+ forEach(arg0 : Consumer&lt;?&gt;)</tspan><tspan x="437" dy="16.7">+ spliterator() : Spliterator&lt;T&gt;</tspan></text>
</g>
</svg>
